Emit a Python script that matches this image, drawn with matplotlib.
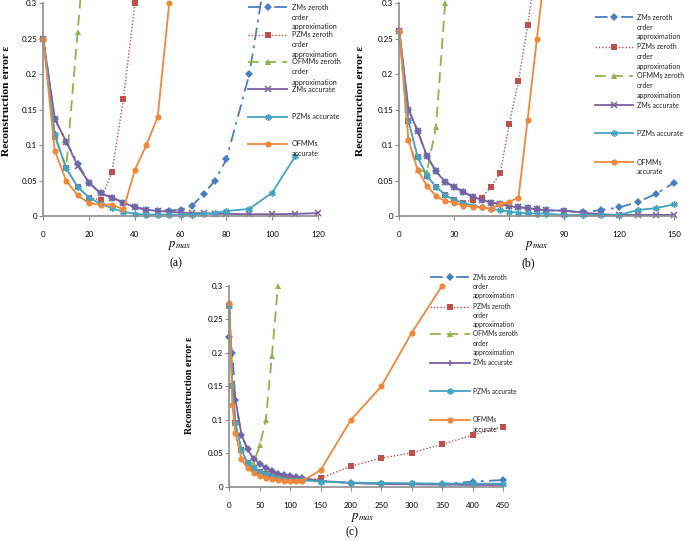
import matplotlib
matplotlib.use('Agg')
import matplotlib.pyplot as plt
from matplotlib.lines import Line2D
from matplotlib.transforms import Bbox, TransformedBbox

plt.rcParams['mathtext.fontset'] = 'stix'

# ---------------- data ----------------
series_labels = [
    ["ZMs zeroth", "order", "approximation"],
    ["PZMs zeroth", "order", "approximation"],
    ["OFMMs zeroth", "order", "approximation"],
    ["ZMs accurate"],
    ["PZMs accurate"],
    ["OFMMs", "accurate"],
]
y_ticks = [0, 0.05, 0.1, 0.15, 0.2, 0.25, 0.3]
y_ticklabels = ["0", "0.05", "0.1", "0.15", "0.2", "0.25", "0.3"]

# panel (a)
a_xticks = [0, 20, 40, 60, 80, 100, 120]
a_x_zms0 = [0, 5, 10, 15, 20, 25, 30, 35, 40, 45, 50, 55, 60, 65, 70, 75, 80, 90, 100]
a_zms0 = [0.25, 0.137, 0.105, 0.074, 0.047, 0.032, 0.026, 0.019, 0.013, 0.009, 0.0075,
          0.0075, 0.009, 0.0145, 0.031, 0.050, 0.080, 0.200, 0.40]
a_x_pzms0 = [0, 5, 10, 15, 20, 25, 30, 35, 40]
a_pzms0 = [0.25, 0.112, 0.068, 0.041, 0.026, 0.0226, 0.062, 0.165, 0.30]
a_x_ofmms0 = [0, 5, 10, 15, 20]
a_ofmms0 = [0.25, 0.112, 0.068, 0.26, 0.45]
a_x_zms = [0, 5, 10, 15, 20, 25, 30, 35, 40, 45, 50, 55, 60, 65, 70, 75, 80, 90, 100, 110, 120]
a_zms = [0.25, 0.137, 0.105, 0.071, 0.047, 0.032, 0.026, 0.019, 0.012, 0.009, 0.007,
         0.006, 0.005, 0.004, 0.004, 0.003, 0.003, 0.0025, 0.0025, 0.003, 0.004]
a_x_pzms = [0, 5, 10, 15, 20, 25, 30, 35, 40, 45, 50, 55, 60, 65, 70, 75, 80, 90, 100, 110]
a_pzms = [0.25, 0.115, 0.067, 0.041, 0.026, 0.017, 0.011, 0.006, 0.003, 0.002, 0.002,
          0.002, 0.002, 0.002, 0.003, 0.004, 0.007, 0.010, 0.033, 0.084]
a_x_ofmms = [0, 5, 10, 15, 20, 25, 30, 35, 40, 45, 50, 55]
a_ofmms = [0.249, 0.092, 0.050, 0.029, 0.018, 0.016, 0.016, 0.0094, 0.065, 0.100, 0.140, 0.30]

# panel (b)
b_xticks = [0, 30, 60, 90, 120, 150]
b_x = [0, 5, 10, 15, 20, 25, 30, 35, 40, 45, 50, 55, 60, 65, 70, 75, 80,
       90, 100, 110, 120, 130, 140, 150]
b_zms0 = [0.261, 0.15, 0.12, 0.085, 0.063, 0.048, 0.041, 0.034, 0.027, 0.023, 0.019,
          0.017, 0.0146, 0.013, 0.011, 0.0094, 0.008, 0.0075, 0.005, 0.0085, 0.012,
          0.020, 0.031, 0.047]
b_x_pzms0 = [0, 5, 10, 15, 20, 25, 30, 35, 40, 45, 50, 55, 60, 65, 70, 75]
b_pzms0 = [0.261, 0.134, 0.083, 0.057, 0.041, 0.030, 0.022, 0.019, 0.0226, 0.026,
           0.041, 0.060, 0.130, 0.190, 0.269, 0.36]
b_x_ofmms0 = [0, 5, 10, 15, 20, 25]
b_ofmms0 = [0.261, 0.107, 0.065, 0.062, 0.125, 0.30]
b_zms = [0.261, 0.15, 0.12, 0.085, 0.063, 0.048, 0.041, 0.034, 0.027, 0.023, 0.019,
         0.017, 0.014, 0.012, 0.011, 0.0094, 0.008, 0.0075, 0.0047, 0.0025, 0.0015,
         0.0015, 0.0015, 0.0015]
b_pzms = [0.261, 0.134, 0.083, 0.057, 0.041, 0.030, 0.022, 0.019, 0.0146, 0.012, 0.010,
          0.0085, 0.006, 0.0047, 0.0038, 0.0033, 0.0033, 0.0014, 0.0014, 0.0014, 0.0014,
          0.0085, 0.011, 0.0165]
b_x_ofmms = [0, 5, 10, 15, 20, 25, 30, 35, 40, 45, 50, 55, 60, 65, 70, 75, 80]
b_ofmms = [0.261, 0.107, 0.065, 0.043, 0.028, 0.021, 0.019, 0.0146, 0.013, 0.012,
           0.0099, 0.017, 0.020, 0.026, 0.136, 0.249, 0.36]

# panel (c)
c_xticks = [0, 50, 100, 150, 200, 250, 300, 350, 400, 450]
c_x = [0, 5, 10, 20, 30, 40, 50, 60, 70, 80, 90, 100, 110, 120, 150, 200, 250, 300,
       350, 400, 450]
c_zms0 = [0.224, 0.20, 0.13, 0.078, 0.056, 0.042, 0.035, 0.029, 0.024, 0.020, 0.018,
          0.016, 0.015, 0.013, 0.009, 0.006, 0.005, 0.005, 0.0045, 0.008, 0.0104]
c_pzms0 = [0.27, 0.15, 0.095, 0.055, 0.036, 0.028, 0.023, 0.019, 0.016, 0.014, 0.012,
           0.011, 0.010, 0.010, 0.013, 0.031, 0.043, 0.051, 0.0636, 0.0775, 0.090]
c_x_ofmms0 = [0, 5, 10, 20, 30, 40, 50, 60, 70, 80]
c_ofmms0 = [0.27, 0.15, 0.095, 0.055, 0.036, 0.035, 0.062, 0.10, 0.195, 0.30]
c_zms = [0.27, 0.15, 0.13, 0.078, 0.056, 0.042, 0.035, 0.029, 0.024, 0.020, 0.018,
         0.016, 0.015, 0.013, 0.009, 0.006, 0.0045, 0.004, 0.0035, 0.003, 0.003]
c_pzms = [0.27, 0.15, 0.095, 0.055, 0.036, 0.028, 0.023, 0.019, 0.016, 0.014, 0.012,
          0.011, 0.010, 0.010, 0.008, 0.0065, 0.006, 0.0055, 0.005, 0.005, 0.005]
c_x_ofmms = [0, 5, 10, 20, 30, 40, 50, 60, 70, 80, 90, 100, 110, 120, 150, 200, 250,
             300, 350]
c_ofmms = [0.274, 0.122, 0.080, 0.041, 0.028, 0.021, 0.016, 0.014, 0.0115, 0.010,
           0.0094, 0.0094, 0.009, 0.009, 0.025, 0.10, 0.15, 0.23, 0.30]

# ---------------- styles ----------------
C_BLUE = '#4A7EC0'
C_RED = '#C0504D'
C_GREEN = '#8DB54A'
C_PURPLE = '#7D5FA0'
C_TEAL = '#44A4C0'
C_ORANGE = '#F0883A'
AX_COL = '#8C8C8C'

W, H = 685, 541
fig = plt.figure(figsize=(W / 100, H / 100), dpi=100)


def fx(x):
    return x / W


def fy(y):
    return 1 - y / H


def styles(purple_marker):
    return [
        dict(color=C_BLUE, ls=(0, (7, 3, 1.5, 3)), lw=1.3, marker='D', ms=3.6, mew=0),
        dict(color=C_RED, ls=(0, (1, 1.4)), lw=1.0, marker='s', ms=4.0, mew=0),
        dict(color=C_GREEN, ls=(0, (6, 3.5)), lw=1.3, marker='^', ms=4.4, mew=0),
        dict(color=C_PURPLE, ls='-', lw=1.3, marker=purple_marker, ms=4.2, mew=1.1),
        dict(color=C_TEAL, ls='-', lw=1.3, marker=(6, 2, 0), ms=4.6, mew=1.1),
        dict(color=C_ORANGE, ls='-', lw=1.3, marker='o', ms=4.4, mew=0),
    ]


def make_panel(box, xmax, xticks, data, purple_marker, xtick_pad):
    l, r, t, b = box
    ax = fig.add_axes([fx(l), fy(b), fx(r) - fx(l), (b - t) / H])
    st = styles(purple_marker)
    clip = TransformedBbox(Bbox([[-0.02, -0.03], [1.02, 1.025]]), ax.transAxes)
    for (xs, ys), s in zip(data, st):
        ln, = ax.plot(xs, ys, **s)
        ln.set_clip_box(clip)
    ax.set_xlim(0, xmax)
    ax.set_ylim(0, 0.3)
    ax.set_xticks(xticks)
    ax.set_xticklabels([str(v) for v in xticks])
    ax.set_yticks(y_ticks)
    ax.set_yticklabels(y_ticklabels)
    for sp in ['top', 'right']:
        ax.spines[sp].set_visible(False)
    for sp in ['left', 'bottom']:
        ax.spines[sp].set_color(AX_COL)
        ax.spines[sp].set_linewidth(1.2)
    ax.tick_params(axis='both', colors=AX_COL, labelcolor='black', direction='out',
                   length=3, width=0.8, labelsize=5.8)
    ax.tick_params(axis='y', pad=1.5)
    ax.tick_params(axis='x', pad=xtick_pad)
    for lab in ax.get_xticklabels() + ax.get_yticklabels():
        lab.set_fontfamily('Lato')
    ax.patch.set_alpha(0)
    return ax


def make_legend(x0, x1, xm, xt, rows, spacing, fsize, purple_marker):
    st = styles(purple_marker)
    for row, s, labs in zip(rows, st, series_labels):
        ln = Line2D([fx(x0), fx(x1)], [fy(row), fy(row)], transform=fig.transFigure,
                    color=s['color'], ls=s['ls'], lw=s['lw'])
        fig.add_artist(ln)
        mk = Line2D([fx(xm)], [fy(row)], transform=fig.transFigure, ls='none',
                    color=s['color'], marker=s['marker'], ms=s['ms'], mew=s['mew'])
        fig.add_artist(mk)
        for i, t in enumerate(labs):
            fig.text(fx(xt), fy(row + i * spacing), t, fontsize=fsize, family='Lato',
                     ha='left', va='center', color='#222222')


# panel (a)
make_panel((43.3, 318.0, 3.3, 216.0), 120, a_xticks,
           [(a_x_zms0, a_zms0), (a_x_pzms0, a_pzms0), (a_x_ofmms0, a_ofmms0),
            (a_x_zms, a_zms), (a_x_pzms, a_pzms), (a_x_ofmms, a_ofmms)], 'x', 8)
make_legend(248, 287, 267.5, 292, [7, 34.5, 62, 89.3, 116.7, 144], 10, 5.2, 'x')

# panel (b)
make_panel((399.3, 674.3, 3.3, 216.0), 150, b_xticks,
           [(b_x, b_zms0), (b_x_pzms0, b_pzms0), (b_x_ofmms0, b_ofmms0),
            (b_x, b_zms), (b_x, b_pzms), (b_x_ofmms, b_ofmms)], 'x', 8)
make_legend(595, 633, 614, 637, [17.3, 46.7, 76, 105, 133.3, 162.3], 9.7, 5.0, 'x')

# panel (c)
make_panel((229.3, 503.0, 285.7, 487.0), 450, c_xticks,
           [(c_x, c_zms0), (c_x, c_pzms0), (c_x_ofmms0, c_ofmms0),
            (c_x, c_zms), (c_x, c_pzms), (c_x_ofmms, c_ofmms)], '+', 7.5)
make_legend(430, 470, 450, 473, [277.3, 306.7, 334, 362.7, 391, 420], 9, 4.8, '+')

# axis titles and panel labels
ylab = "Reconstruction error \u03b5"
for (x, y, fs) in [(7, 101, 8.2), (361, 101, 8.2), (190, 385, 7.2)]:
    fig.text(fx(x), fy(y), ylab, rotation=90, ha='center', va='center',
             family='Liberation Serif', weight='bold', fontsize=fs)
for (x, y) in [(180, 246), (537, 246), (363, 518)]:
    fig.text(fx(x), fy(y), r'$p_{max}$', ha='center', va='center', fontsize=9)
for (x, y, t) in [(176, 263, '(a)'), (528, 263, '(b)'), (352, 532, '(c)')]:
    fig.text(fx(x), fy(y), t, ha='center', va='center', family='Liberation Serif',
             fontsize=8.5)

fig.savefig('out.png', dpi=100)
